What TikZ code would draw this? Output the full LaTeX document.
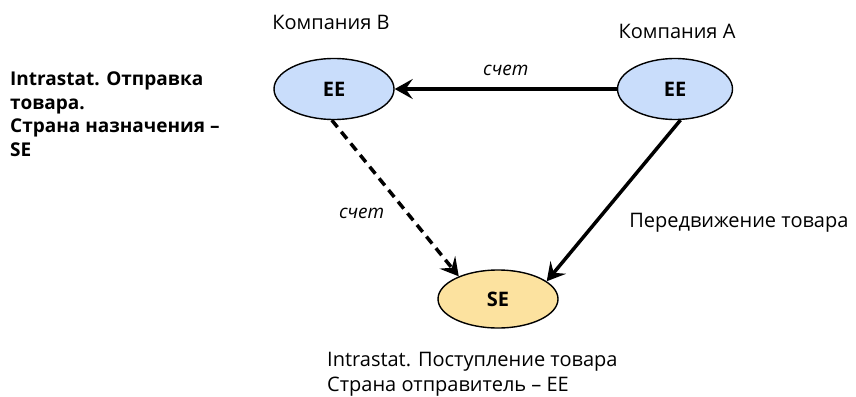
\documentclass[tikz,border=0pt]{standalone}
\usepackage{fontspec}
\setmainfont{Open Sans}
\usetikzlibrary{arrows.meta,positioning,shapes.geometric}

\definecolor{eeblue}{HTML}{C9DDFB}
\definecolor{sefill}{HTML}{FCE29F}

\begin{document}
\begin{tikzpicture}[x=1pt,y=-1pt,>={Stealth[length=18pt,width=20pt,inset=7pt]},
    every node/.style={font=\fontsize{20}{23.5}\selectfont},
    firm/.style={ellipse,draw,line width=1.4pt,fill=eeblue,inner sep=0pt,
      minimum width=120pt,minimum height=61pt,font=\fontsize{20}{23.5}\selectfont\bfseries},
    flow/.style={->,line width=3.5pt},
    note/.style={inner sep=0pt,align=left}]
  \useasboundingbox (0,0) rectangle (856,396);

  \node[firm]                       (b)  at (334,89)  {EE};
  \node[firm,minimum width=115pt]   (a)  at (675,89)  {EE};
  \node[firm,fill=sefill,minimum height=58pt] (se) at (498,299) {SE};

  \node[note,anchor=base]           (bname) at (331,30) {Компания B};
  \node[note,anchor=base]           (aname) at (677,38) {Компания A};

  \node[note,anchor=north west,font=\fontsize{19}{23.5}\selectfont\bfseries]
    (sent) at (10,72) {Intrastat. Отправка\\товара.\\Страна назначения –\\SE};
  \node[note,anchor=north west,font=\fontsize{20}{25}\selectfont] (recv) at (327,352)
    {Intrastat. Поступление товара\\Страна отправитель – EE};

  \path (a)      edge[flow] node[above=8pt,font=\fontsize{19}{23.5}\selectfont\itshape] {счет} (b)
        (a.280)  edge[flow] node[right=32pt,pos=0.635,inner sep=0pt] {Передвижение товара} (se.20)
        (b.266)  edge[flow,dash pattern=on 9pt off 6pt] node[left=22pt,pos=0.6,inner sep=0pt,font=\fontsize{19}{23.5}\selectfont\itshape] {счет} (se.150);
\end{tikzpicture}
\end{document}
